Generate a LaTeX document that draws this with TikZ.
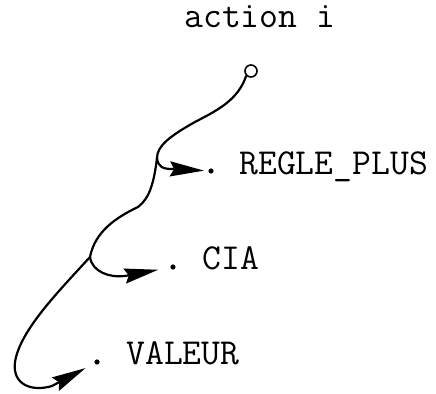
\documentclass[tikz,border=0pt]{standalone}
\usetikzlibrary{arrows.meta}
\usetikzlibrary{positioning}

\begin{document}
\begin{tikzpicture}[x=0.5pt,y=-0.5pt,
        itemtext/.style={font=\ttfamily\fontsize{18.3}{20}\selectfont, inner sep=0pt, anchor=base west},
        bullet/.style={circle, fill=black, inner sep=0pt, minimum size=2.6pt},
        flow/.style={line width=1.1pt, -{Stealth[length=17pt,width=7.5pt,inset=2pt]}}]
        \useasboundingbox (0,0) rectangle (436,394);
        \node[itemtext] (title) at (184,28) {action i};
        \node[circle, draw, line width=0.8pt, inner sep=0pt, minimum size=6pt] (start) at (251,71) {};
        \node[bullet] (rdot) at (211,171) {};
        \node[bullet] (cdot) at (173,267) {};
        \node[bullet] (vdot) at (97,362) {};
        \node[itemtext] (regle) at (239,175) {REGLE\_PLUS};
        \node[itemtext] (cia) at (202,270) {CIA};
        \node[itemtext] (valeur) at (126,365) {VALEUR};
        \coordinate (b1) at (157,158);
        \coordinate (b2) at (90,257);
        \draw[line width=1.1pt] (start.south west) .. controls (238,100) and (218,110) .. (195,122)
                    .. controls (170,136) and (157,146) .. (b1);
        \draw[flow, shorten >=2pt] (b1) .. controls (158,167) and (163,169) .. (172,169) -- (rdot);
        \draw[flow, shorten >=6pt] (b2) .. controls (92,272) and (110,278) .. (125,276) -- (cdot);
        \draw[flow, shorten >=5pt] (b1) .. controls (154,182) and (150,198) .. (138,207)
                    .. controls (115,218) and (95,232) .. (b2)
                    .. controls (60,290) and (20,330) .. (15,362)
                    .. controls (12,385) and (32,392) .. (52,386) -- (vdot);
    \end{tikzpicture}
\end{document}
